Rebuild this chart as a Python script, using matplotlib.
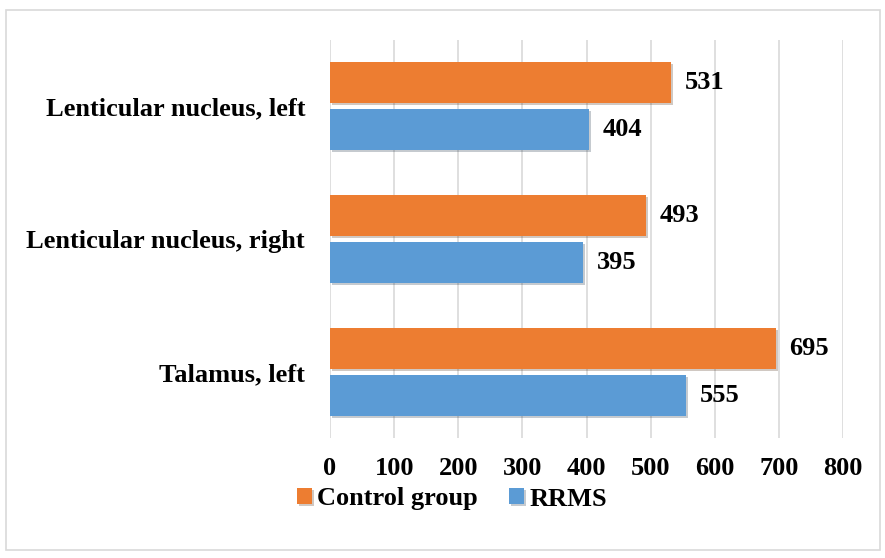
import matplotlib
matplotlib.use("Agg")
import matplotlib.pyplot as plt
import matplotlib.patheffects as pe
import numpy as np

categories = ["Talamus, left", "Lenticular nucleus, right", "Lenticular nucleus, left"]
control = [695, 493, 531]
rrms = [555, 395, 404]
xticks = [0, 100, 200, 300, 400, 500, 600, 700, 800]

plt.rcParams['font.family'] = ['Liberation Serif', 'DejaVu Serif']
plt.rcParams['font.weight'] = 'bold'

fig = plt.figure(figsize=(8.85, 5.58), dpi=100)
ax = fig.add_axes([0.3729, 0.2142, 0.5797, 0.715])

y = np.arange(len(categories))
h = 0.31
off = 0.175
shadow = [pe.SimplePatchShadow(offset=(1.5, -1.5), alpha=0.25), pe.Normal()]
b1 = ax.barh(y + off, control, height=h, color='#ED7D31', label='Control group', zorder=3)
b2 = ax.barh(y - off, rrms, height=h, color='#5B9BD5', label='RRMS', zorder=3)
for b in list(b1) + list(b2):
    b.set_path_effects(shadow)

for yy, v in zip(y + off, control):
    ax.annotate(str(v), (v, yy), xytext=(10, 0), textcoords='offset points',
                va='center', ha='left', fontsize=19, fontweight='bold')
for yy, v in zip(y - off, rrms):
    ax.annotate(str(v), (v, yy), xytext=(10, 0), textcoords='offset points',
                va='center', ha='left', fontsize=19, fontweight='bold')

ax.set_xlim(0, 800)
ax.set_ylim(-0.5, 2.5)
ax.set_xticks(xticks)
ax.set_yticks(y)
ax.set_yticklabels(categories)
ax.tick_params(axis='x', length=0, pad=13, labelsize=19)
ax.tick_params(axis='y', length=0, pad=18, labelsize=19)
ax.grid(axis='x', color='#D9D9D9', linewidth=1.2, zorder=0)
for s in ax.spines.values():
    s.set_visible(False)

fig.legend(handles=[b1, b2], loc='center', bbox_to_anchor=(452 / 885, 1 - 499 / 558),
           ncol=2, frameon=False, fontsize=19, handlelength=0.55, handleheight=0.55,
           handletextpad=0.2, columnspacing=1.2)

border = plt.Rectangle((6 / 885, 8 / 558), 874 / 885, 540 / 558, transform=fig.transFigure,
                       fill=False, edgecolor='#D9D9D9', linewidth=1.2)
fig.patches.append(border)

fig.savefig("out.png", dpi=100)
